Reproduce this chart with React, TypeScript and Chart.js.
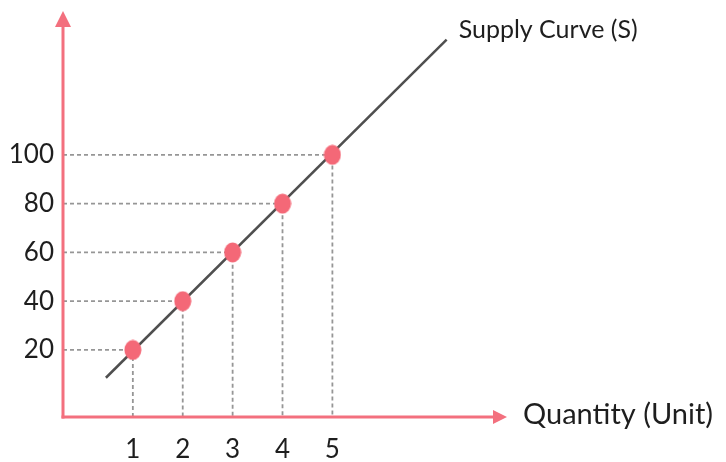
import React, { useEffect, useRef } from "react";
import { Chart, registerables } from "chart.js";

Chart.register(...registerables);

// ---- data ----
const quantities = [1, 2, 3, 4, 5];
const prices = [20, 40, 60, 80, 100];
const xTickValues = [1, 2, 3, 4, 5];
const yTickValues = [20, 40, 60, 80, 100];
const supplyLineX = [0.46, 7.29];
const supplyLineY = [8.6, 147.3];
const curveLabel = "Supply Curve (S)";
const xAxisTitle = "Quantity (Unit)";

// ---- scale ranges ----
const X_MIN = -0.4;
const X_MAX = 8.5;
const Y_MIN = -7.5;
const Y_MAX = 159;

const PINK = "#F3707E";
const POINT_PINK = "#F46877";
const FONT = "Lato, 'Noto Sans', sans-serif";
const TEXT = "#1e1e1e";

export default function App() {
  const ref = useRef<HTMLCanvasElement>(null);

  useEffect(() => {
    document.body.style.margin = "0";
    const canvas = ref.current!;

    const dot = document.createElement("canvas");
    dot.width = 18;
    dot.height = 21;
    const dctx = dot.getContext("2d")!;
    dctx.fillStyle = POINT_PINK;
    dctx.beginPath();
    dctx.ellipse(9, 10.5, 8.5, 10, 0, 0, Math.PI * 2);
    dctx.fill();

    const guides = quantities.map((q, i) => ({
      data: [
        { x: X_MIN, y: prices[i] },
        { x: q, y: prices[i] },
        { x: q, y: Y_MIN },
      ],
      showLine: true,
      borderColor: "#969696",
      borderWidth: 1.8,
      borderDash: [4, 3],
      pointRadius: 0,
      fill: false,
      order: 3,
    }));

    const supply = {
      data: supplyLineX.map((x, i) => ({ x, y: supplyLineY[i] })),
      showLine: true,
      borderColor: "#4f4f4f",
      borderWidth: 2.5,
      pointRadius: 0,
      fill: false,
      order: 2,
    };

    const points = {
      data: quantities.map((q, i) => ({ x: q, y: prices[i] })),
      showLine: false,
      pointStyle: dot,
      pointRadius: 10,
      order: 1,
    };

    const decor = {
      id: "decor",
      afterDatasetsDraw(chart: any) {
        const { ctx, chartArea } = chart;
        const { left, right, top, bottom } = chartArea;
        ctx.save();
        ctx.strokeStyle = PINK;
        ctx.fillStyle = PINK;
        ctx.lineWidth = 3;
        ctx.lineCap = "butt";
        // y axis
        ctx.beginPath();
        ctx.moveTo(left, bottom + 1.5);
        ctx.lineTo(left, top + 14);
        ctx.stroke();
        ctx.beginPath();
        ctx.moveTo(left, top);
        ctx.lineTo(left - 8, top + 16);
        ctx.lineTo(left + 8, top + 16);
        ctx.closePath();
        ctx.fill();
        // x axis
        ctx.beginPath();
        ctx.moveTo(left - 1.5, bottom);
        ctx.lineTo(right - 12, bottom);
        ctx.stroke();
        ctx.beginPath();
        ctx.moveTo(right, bottom);
        ctx.lineTo(right - 14, bottom - 7);
        ctx.lineTo(right - 14, bottom + 7);
        ctx.closePath();
        ctx.fill();

        // labels
        ctx.fillStyle = TEXT;
        ctx.textBaseline = "middle";
        ctx.textAlign = "left";
        ctx.font = `29px ${FONT}`;
        ctx.fillText(xAxisTitle, right + 16, bottom - 2);
        const xs = chart.scales.x.getPixelForValue(supplyLineX[1]);
        const ys = chart.scales.y.getPixelForValue(supplyLineY[1]);
        ctx.font = `25px ${FONT}`;
        ctx.fillText(curveLabel, xs + 12, ys - 10);
        ctx.restore();
      },
    };

    const chart = new Chart(canvas, {
      type: "scatter",
      data: { datasets: [points, supply, ...guides] as any },
      options: {
        responsive: false,
        animation: false,
        layout: { padding: { left: 0, top: 10, right: 219, bottom: 0 } },
        plugins: { legend: { display: false }, tooltip: { enabled: false } },
        scales: {
          x: {
            type: "linear",
            min: X_MIN,
            max: X_MAX,
            grid: { display: false, drawTicks: false },
            border: { display: false },
            afterBuildTicks: (s: any) => {
              s.ticks = xTickValues.map((v) => ({ value: v }));
            },
            afterFit: (s: any) => {
              s.height = 45;
              s.paddingLeft = 0;
              s.paddingRight = 0;
            },
            ticks: {
              color: TEXT,
              font: { family: FONT, size: 26 },
              padding: 17,
              maxRotation: 0,
              callback: (v: any) => String(v),
            },
          },
          y: {
            type: "linear",
            min: Y_MIN,
            max: Y_MAX,
            grid: { display: false, drawTicks: false },
            border: { display: false },
            afterBuildTicks: (s: any) => {
              s.ticks = yTickValues.map((v) => ({ value: v }));
            },
            afterFit: (s: any) => {
              s.width = 63;
              s.paddingTop = 0;
              s.paddingBottom = 0;
            },
            ticks: {
              color: TEXT,
              font: { family: FONT, size: 26 },
              padding: 9,
              callback: (v: any) => String(v),
            },
          },
        },
      },
      plugins: [decor],
    });

    return () => chart.destroy();
  }, []);

  return (
    <div style={{ position: "absolute", left: 0, top: 0, width: 726, height: 462, background: "#fff" }}>
      <canvas ref={ref} width={726} height={462} style={{ display: "block" }} />
    </div>
  );
}
